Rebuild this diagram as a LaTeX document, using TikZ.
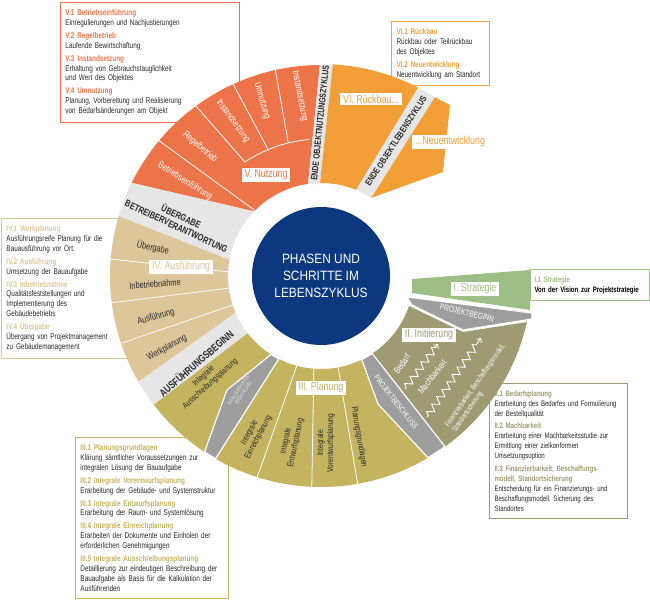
\documentclass[tikz,border=0pt]{standalone}
\usepackage{fontspec}
\setmainfont{Liberation Sans}
\newfontfamily\condfont{Liberation Sans}[FakeStretch=0.77]
\newfontfamily\widefont{Liberation Sans}[FakeStretch=0.88]
\usepackage{tikz}
\usetikzlibrary{arrows.meta, decorations.pathmorphing}

\definecolor{nutzorange}{RGB}{237, 116, 73}
\definecolor{rueckorange}{RGB}{242, 159, 55}
\definecolor{ausftan}{RGB}{221, 199, 154}
\definecolor{planolive}{RGB}{196, 180, 96}
\definecolor{initolive}{RGB}{158, 154, 114}
\definecolor{stratgreen}{RGB}{157, 190, 132}
\definecolor{barlight}{RGB}{230, 230, 230}
\definecolor{bardark}{RGB}{158, 158, 158}
\definecolor{centreblue}{RGB}{12, 56, 128}
\definecolor{textdark}{RGB}{40, 40, 40}

\newcommand{\phasetitle}[2]{\textcolor{#1}{\bfseries #2}}

\tikzset{
  infobox/.style={draw=#1, line width=1pt, fill=white, anchor=north west, align=left,
    inner xsep=5pt, inner ysep=7pt, text=textdark, font=\condfont\fontsize{8.3}{9.9}\selectfont},
  phaselabel/.style={fill=white, text=#1, inner xsep=3pt, inner ysep=2pt,
    font=\condfont\fontsize{11.5}{12}\selectfont},
  seglabel/.style={text=#1, align=center, inner sep=0pt, font=\condfont\fontsize{9.6}{11}\selectfont},
  seglabel/.default=white,
  planlabel/.style={text=textdark, align=center, inner sep=0pt, font=\condfont\fontsize{8.6}{10}\selectfont},
  barlabel/.style={text=textdark, align=center, inner sep=0pt, font=\condfont\bfseries\fontsize{#1}{11}\selectfont},
  gatelabel/.style={text=white, align=center, inner sep=0pt, font=\condfont\fontsize{#1}{#1}\selectfont},
  darkbar/.style={fill=bardark, draw=white, line width=1.2pt},
  sepline/.style={white, line width=0.8pt},
  zigarrow/.style={white, line width=0.9pt, decorate,
    decoration={zigzag, amplitude=3.5pt, segment length=9pt, pre length=2pt, post length=4pt},
    -{Straight Barb[length=3pt, width=6pt]}}
}

\begin{document}
\begin{tikzpicture}[x=1pt, y=1pt]
  \useasboundingbox (-321,-329) rectangle (329,276);
  \fill[white] (-321,-329) rectangle (329,276);

  % Info boxes (behind the wheel)
  \node[infobox=nutzorange, text width=169pt] (nutzinfo) at (-261,274) {
    \phasetitle{nutzorange}{V.1 Betriebseinführung}\\
    Einregulierungen und Nachjustierungen\\[3pt]
    \phasetitle{nutzorange}{V.2 Regelbetrieb}\\
    Laufende Bewirtschaftung\\[3pt]
    \phasetitle{nutzorange}{V.3 Instandsetzung}\\
    Erhaltung von Gebrauchstauglichkeit\\
    und Wert des Objektes\\[3pt]
    \phasetitle{nutzorange}{V.4 Umnutzung}\\
    Planung, Vorbereitung und Realisierung\\
    von Bedarfsänderungen am Objekt\\[2pt]
  };

  \node[infobox=rueckorange, text width=88pt] (rueckinfo) at (70,255) {
    \phasetitle{rueckorange}{VI.1 Rückbau}\\
    Rückbau oder Teilrückbau\\
    des Objektes\\[3pt]
    \phasetitle{rueckorange}{VI.2 Neuentwicklung}\\
    Neuentwicklung am Standort
  };

  \node[infobox=ausftan, text width=139pt] (ausfinfo) at (-320,58) {
    \phasetitle{ausftan}{IV.1 Werkplanung}\\
    Ausführungsreife Planung für die\\
    Bauausführung vor Ort.\\[3pt]
    \phasetitle{ausftan}{IV.2 Ausführung}\\
    Umsetzung der Bauaufgabe\\[3pt]
    \phasetitle{ausftan}{IV.3 Inbetriebnahme}\\
    Qualitätsfeststellungen und\\
    Implementierung des\\
    Gebäudebetriebs\\[3pt]
    \phasetitle{ausftan}{IV.4 Übergabe}\\
    Übergang von Projektmanagement\\
    zu Gebäudemanagement
  };

  \node[infobox=planolive, text width=143pt] (planinfo) at (-246,-161) {
    \phasetitle{planolive}{III.1 Planungsgrundlagen}\\
    Klärung sämtlicher Voraussetzungen zur\\
    integralen Lösung der Bauaufgabe\\[3pt]
    \phasetitle{planolive}{III.2 Integrale Vorentwurfsplanung}\\
    Erarbeitung der Gebäude- und Systemstruktur\\[3pt]
    \phasetitle{planolive}{III.3 Integrale Entwurfsplanung}\\
    Erarbeitung der Raum- und Systemlösung\\[3pt]
    \phasetitle{planolive}{III.4 Integrale Einreichplanung}\\
    Erarbeiten der Dokumente und Einholen der\\
    erforderlichen Genehmigungen\\[3pt]
    \phasetitle{planolive}{III.5 Integrale Ausschreibungsplanung}\\
    Detaillierung zur eindeutigen Beschreibung der\\
    Bauaufgabe als Basis für die Kalkulation der\\
    Ausführenden
  };

  \node[infobox=initolive, text width=128pt, inner xsep=5pt, font=\condfont\fontsize{7.9}{9.9}\selectfont] (initinfo) at (168,-107) {
    \phasetitle{initolive}{II.1 Bedarfsplanung}\\
    Erarbeitung des Bedarfes und Formulierung\\
    der Bestellqualität\\[3pt]
    \phasetitle{initolive}{II.2 Machbarkeit}\\
    Erarbeitung einer Machbarkeitsstudie zur\\
    Ermittlung einer zielkonformen\\
    Umsetzungsoption\\[3pt]
    \phasetitle{initolive}{II.3 Finanzierbarkeit, Beschaffungs-}\\
    \phasetitle{initolive}{modell, Standortsicherung}\\
    Entscheidung für ein Finanzierungs- und\\
    Beschaffungsmodell, Sicherung des\\
    Standortes
  };

  \node[infobox=stratgreen, text width=111pt, inner xsep=4pt, font=\condfont\fontsize{7.9}{9.9}\selectfont] (stratinfo) at (209,7) {
    \phasetitle{stratgreen}{I.1 Strategie}\\
    \textcolor{black}{\bfseries Von der Vision zur Projektstrategie}
  };

  % Nutzung and Rueckbau
  \fill[nutzorange] (98:93) -- (90.3:211) arc[start angle=90.3, end angle=153.8, radius=211]
    -- (136:93) arc[start angle=136, end angle=98, radius=93] -- cycle;
  \fill[barlight] (136:93) -- (153.8:211) arc[start angle=153.8, end angle=163.5, radius=211]
    -- (170:93) arc[start angle=170, end angle=136, radius=93] -- cycle;
  \fill[barlight] (98:93) -- (90.3:211) -- (86.8:212) -- (90.6:93) -- cycle;
  \fill[rueckorange] (90.6:93) -- (86.8:212) arc[start angle=86.8, end angle=62.7, radius=212]
    -- (67.8:93) arc[start angle=67.8, end angle=90.6, radius=93] -- cycle;
  \fill[barlight] (67.8:93) -- (62.7:212) -- (57.5:212) -- (57.2:93) -- cycle;
  \fill[rueckorange] (57.2:93) -- (57.5:212) -- (129,171) -- (122,104) -- cycle;

  % Ausfuehrung and Planung
  \fill[ausftan] (170:93) -- (163.5:211) arc[start angle=163.5, end angle=210.1, radius=211]
    -- (203.3:93) arc[start angle=203.3, end angle=170, radius=93] -- cycle;
  \fill[barlight] (203.3:93) -- (210.1:211) arc[start angle=210.1, end angle=217.6, radius=211]
    -- (218:93) arc[start angle=218, end angle=203.3, radius=93] -- cycle;
  \fill[planolive] (218:93) -- (217.6:211) arc[start angle=217.6, end angle=300.5, radius=211]
    -- (294:140) -- (296:93) arc[start angle=296, end angle=218, radius=93] -- cycle;

  % Strategie and Initiierung
  \fill[initolive] (303.5:93) -- (306:211) arc[start angle=306, end angle=347.4, radius=211]
    -- (142,-56) -- (341.2:93) arc[start angle=341.2, end angle=303.5, radius=93] -- cycle;
  \fill[stratgreen] (91,-3) -- (209,6) -- (209,-34) -- (91,-17) -- cycle;
  \filldraw[darkbar] (86,-21) -- (211,-37) -- (211,-43) -- (142,-54) -- (91,-29) -- cycle;
  \filldraw[darkbar] (296:93) -- (294:140) -- (300.5:211) -- (306:211) -- (303.5:93) -- cycle;
  \filldraw[darkbar] (237.5:93) -- (230.5:148) -- (236.5:211) -- (240:211) -- (243:93) -- cycle;

  % Dividing lines
  \draw[sepline] (-163,136) -- (-64,64);
  \draw[sepline] (-126,171) -- (123.7:137) arc[start angle=123.7, end angle=95.1, radius=137];
  \draw[sepline] (-89,194) -- (112.7:137);
  \draw[sepline] (-46,208) -- (103.8:137);
  \draw[sepline] (-211,17) -- (-91,4);
  \draw[sepline] (-211,-27) -- (-91,-12);
  \draw[sepline] (-199,-67) -- (-88,-29);
  \draw[sepline] (254.9:93) -- (252.4:211);
  \draw[sepline] (265.6:93) -- (267.5:211);
  \draw[sepline] (280.6:93) -- (280:211);

  % Segment texts
  \node[seglabel, rotate=-32] (betrieb) at (-136,95) {Betriebseinführung};
  \node[seglabel, rotate=-41] (regel) at (-121,129) {Regelbetrieb};
  \node[seglabel, rotate=-54] (instandA) at (-88,155) {Instandsetzung};
  \node[seglabel, rotate=-74] (umnutz) at (-59,175) {Umnutzung};
  \node[seglabel, rotate=-79] (instandB) at (-21,180) {Instandsetzung};

  \node[seglabel=textdark, rotate=-12] (uebergabe) at (-168,28) {Übergabe};
  \node[seglabel=textdark, rotate=4] (inbetrieb) at (-166,-8) {Inbetriebnahme};
  \node[seglabel=textdark, rotate=15] (ausfuehr) at (-165,-41) {Ausführung};
  \node[seglabel=textdark, rotate=28] (werkpl) at (-154,-72) {Werkplanung};

  \node[planlabel, rotate=42] (ausschr) at (-114,-104) {Integrale\\Ausschreibungsplanung};
  \node[planlabel, rotate=62] (einreich) at (-67,-159) {Integrale\\Einreichplanung};
  \node[planlabel, rotate=78] (entwurf) at (-30,-166) {Integrale\\Entwurfsplanung};
  \node[planlabel, rotate=90] (vorentw) at (5,-167) {Integrale\\Vorentwurfsplanung};
  \node[planlabel, rotate=-80] (grundl) at (38,-161) {Planungsgrundlagen};

  \node[seglabel, rotate=55] (bedarf) at (81,-88) {Bedarf};
  \node[seglabel, rotate=52] (machbar) at (111,-101) {Machbarkeit};
  \node[seglabel, align=left, rotate=55, font=\condfont\fontsize{7.6}{8.8}\selectfont] (finanz) at (158,-112)
    {Finanzierbarkeit, Beschaffungsmodell,\\Standortsicherung};
  \coordinate (zigAfrom) at (84,-113);
  \coordinate (zigAto) at (117,-68);
  \coordinate (zigBfrom) at (106,-141);
  \coordinate (zigBto) at (160,-62);
  \draw[zigarrow] (zigAfrom) -- (zigAto);
  \draw[zigarrow] (zigBfrom) -- (zigBto);

  % Milestones
  \node[barlabel=9, rotate=84] (endenutz) at (-1,153) {ENDE OBJEKTNUTZUNGSZYKLUS};
  \node[barlabel=9, rotate=57] (endeleben) at (75,135) {ENDE OBJEKTLEBENSZYKLUS};
  \node[barlabel=9.6, rotate=-25] (betreiber) at (-142,55) {ÜBERGABE\\BETREIBERVERANTWORTUNG};
  \node[barlabel=10.5, rotate=41] (ausfbeginn) at (-125,-87) {AUSFÜHRUNGSBEGINN};
  \node[gatelabel=8.5, rotate=-13] (projbeginn) at (146,-37) {PROJEKTBEGINN};
  \node[gatelabel=8, rotate=-52] (projbeschl) at (75,-126) {PROJEKTBESCHLUSS};
  \node[gatelabel=5.5, rotate=57, text=barlight] (realbeschl) at (-80,-115) {REALISIERUNGS-\\BESCHLUSS};

  % Phase names
  \node[phaselabel=nutzorange] (nutzung) at (-55,101) {V. Nutzung};
  \node[phaselabel=rueckorange] (rueckbau) at (50,177) {VI. Rückbau...};
  \node[phaselabel=rueckorange] (neuentw) at (129,134) {...Neuentwicklung};
  \node[phaselabel=ausftan] (ausfuehrung) at (-140,9) {IV. Ausführung};
  \node[phaselabel=planolive] (planung) at (0,-112) {III. Planung};
  \node[phaselabel=initolive] (initiierung) at (108,-59) {II. Initiierung};
  \node[phaselabel=stratgreen] (strategie) at (154,-13) {I. Strategie};

  % Centre
  \node[circle, fill=centreblue, minimum size=138pt, inner sep=0pt, text=white, align=center,
    font=\widefont\fontsize{13.5}{17}\selectfont] (centre) at (0,0) {PHASEN UND\\SCHRITTE IM\\LEBENSZYKLUS};
\end{tikzpicture}
\end{document}
